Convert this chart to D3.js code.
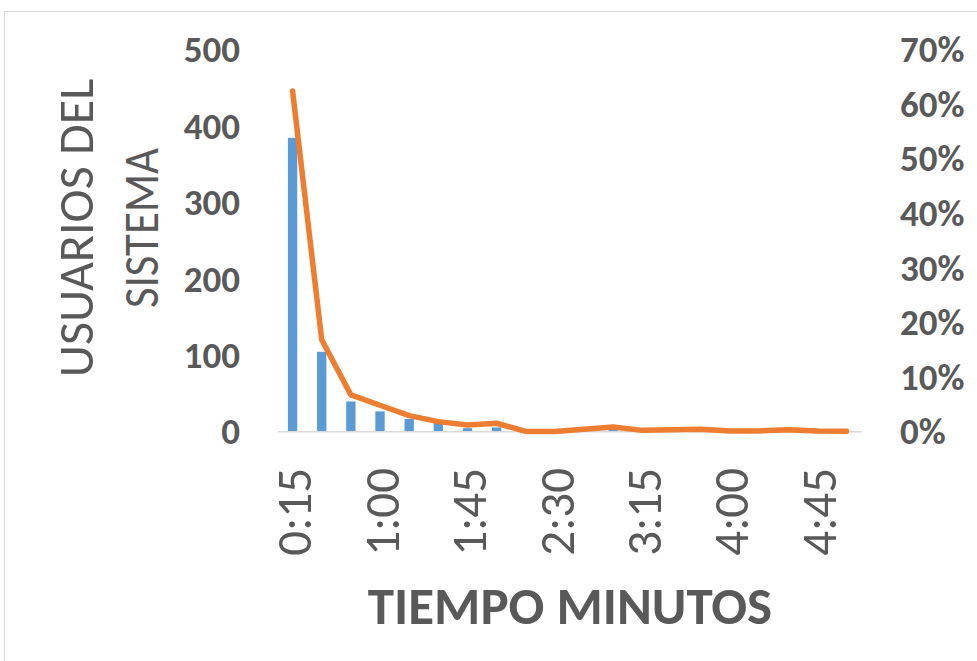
<!DOCTYPE html>
<html>
<head>
<meta charset="utf-8">
<script src="https://cdn.jsdelivr.net/npm/d3@7"></script>
<style>
  html, body { margin: 0; padding: 0; background: #fff; }
  svg { display: block; }
  text { font-family: Carlito, Calibri, Lato, "Open Sans", sans-serif; fill: #595959; }
</style>
</head>
<body>
<script>
// Time buckets (minutes) and the users that fell in each one
const tiempos = ["0:15","0:30","0:45","1:00","1:15","1:30","1:45","2:00","2:15","2:30",
                 "2:45","3:00","3:15","3:30","3:45","4:00","4:15","4:30","4:45","5:00"];
const usuarios = [385, 105, 40, 27, 17, 12, 5, 6, 0, 0, 2, 4, 1, 1, 2, 0, 1, 2, 1, 1];
// Share of all users per bucket (secondary axis)
const porcentaje = [0.625, 0.169, 0.068, 0.049, 0.030, 0.019, 0.013, 0.016, 0.001, 0.001,
                    0.005, 0.009, 0.003, 0.004, 0.005, 0.002, 0.002, 0.004, 0.002, 0.0015];
const ticksUsuarios = [0, 100, 200, 300, 400, 500];
const ticksPorcentaje = [0, 0.1, 0.2, 0.3, 0.4, 0.5, 0.6, 0.7];
const etiquetasX = ["0:15","1:00","1:45","2:30","3:15","4:00","4:45"];

const W = 977, H = 661;
const svg = d3.select("body").append("svg").attr("width", W).attr("height", H);

// chart area frame
svg.append("path")
  .attr("d", `M4.5,${H} V11.5 H${W}`)
  .attr("fill", "none").attr("stroke", "#d9d9d9").attr("stroke-width", 1);

const x = d3.scaleBand().domain(tiempos).range([278, 861]).paddingInner(0.68).paddingOuter(0.34);
const yL = d3.scaleLinear().domain([0, 500]).range([432, 50]);
const yR = d3.scaleLinear().domain([0, 0.7]).range([432, 50]);

// left axis labels
const gL = svg.append("g").attr("transform", "translate(240,0)")
  .call(d3.axisLeft(yL).tickValues(ticksUsuarios).tickSize(0).tickPadding(0));
gL.select(".domain").remove();
gL.selectAll("text").attr("font-size", 37).attr("font-weight", "bold")
  .style("font-family", "Carlito, Calibri, Lato, sans-serif").attr("fill", "#595959");

// right axis labels
const gR = svg.append("g").attr("transform", "translate(900,0)")
  .call(d3.axisRight(yR).tickValues(ticksPorcentaje).tickFormat(d3.format(".0%")).tickSize(0).tickPadding(0));
gR.select(".domain").remove();
gR.selectAll("text").attr("font-size", 37).attr("font-weight", "bold")
  .style("font-family", "Carlito, Calibri, Lato, sans-serif").attr("fill", "#595959");

// bars
svg.append("g").selectAll("rect").data(tiempos).join("rect")
  .attr("x", d => x(d))
  .attr("width", x.bandwidth())
  .attr("y", (d, i) => yL(usuarios[i]))
  .attr("height", (d, i) => yL(0) - yL(usuarios[i]))
  .attr("fill", "#5b9bd5");

// category axis line
svg.append("line").attr("x1", 278).attr("x2", 862).attr("y1", 431.7).attr("y2", 431.7)
  .attr("stroke", "#d9d9d9").attr("stroke-width", 1.5);

// percentage line
const linea = d3.line()
  .x((d, i) => x(tiempos[i]) + x.bandwidth() / 2)
  .y(d => yR(d));
svg.append("path").datum(porcentaje)
  .attr("d", linea)
  .attr("fill", "none").attr("stroke", "#ed7d31").attr("stroke-width", 5.5)
  .attr("stroke-linejoin", "round").attr("stroke-linecap", "round");

// category labels, rotated
svg.append("g").selectAll("text").data(etiquetasX).join("text")
  .attr("transform", d => `translate(${x(d) + x.bandwidth() / 2 + 1},468) rotate(-90)`)
  .attr("text-anchor", "end").attr("dy", "0.36em")
  .attr("font-size", 49)
  .text(d => d);

// axis titles
svg.append("text").attr("x", 570).attr("y", 624).attr("text-anchor", "middle")
  .attr("font-size", 53).attr("font-weight", "bold").text("TIEMPO MINUTOS");

const tituloY = svg.append("text").attr("transform", "translate(0,228) rotate(-90)")
  .attr("text-anchor", "middle").attr("font-size", 50);
tituloY.append("tspan").attr("x", 0).attr("y", 93).text("USUARIOS DEL");
tituloY.append("tspan").attr("x", 0).attr("y", 158).attr("textLength", 160)
  .attr("lengthAdjust", "spacingAndGlyphs").text("SISTEMA");
</script>
</body>
</html>
